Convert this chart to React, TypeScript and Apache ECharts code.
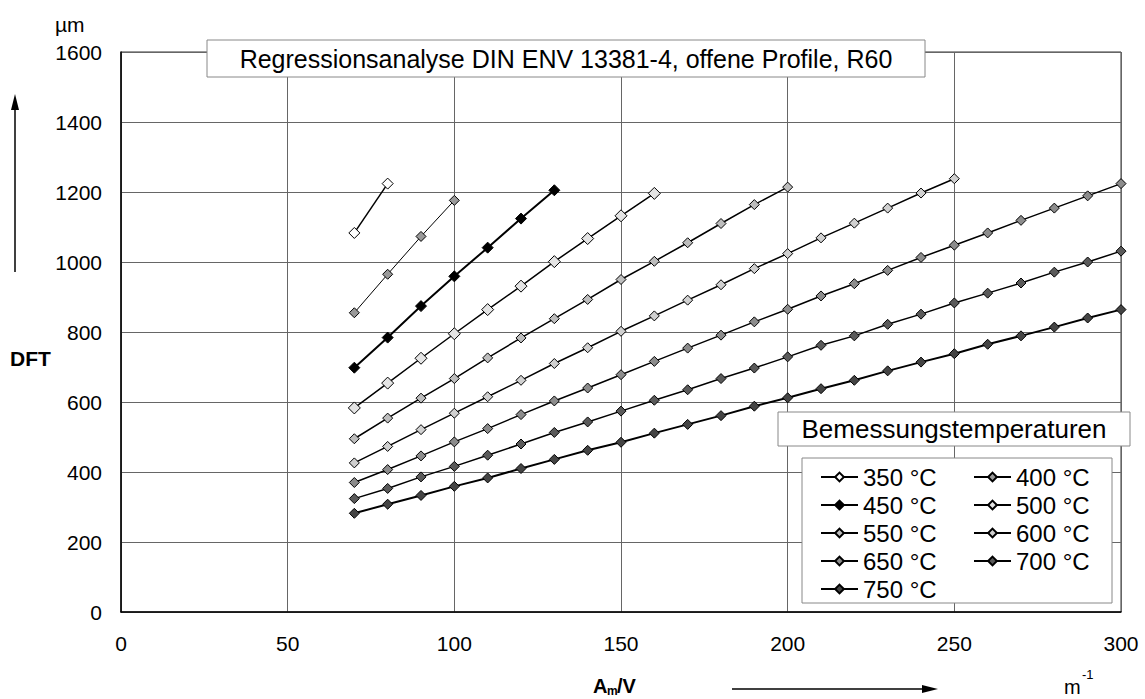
import React, { useEffect, useRef } from "react";
import * as echarts from "echarts";

const amV = [70, 80, 90, 100, 110, 120, 130, 140, 150, 160, 170, 180, 190, 200, 210, 220, 230, 240, 250, 260, 270, 280, 290, 300];
const yTicks = [0, 200, 400, 600, 800, 1000, 1200, 1400, 1600];
const xTicks = [0, 50, 100, 150, 200, 250, 300];

const temps = ["350 °C", "400 °C", "450 °C", "500 °C", "550 °C", "600 °C", "650 °C", "700 °C", "750 °C"];
const t350 = [1083, 1224];
const t400 = [855, 965, 1073, 1176];
const t450 = [698, 784, 874, 959, 1041, 1124, 1205];
const t500 = [583, 654, 725, 795, 864, 931, 1001, 1067, 1132, 1196];
const t550 = [495, 554, 611, 667, 726, 783, 838, 893, 950, 1002, 1055, 1110, 1164, 1214];
const t600 = [426, 473, 521, 568, 615, 662, 710, 755, 802, 846, 891, 935, 981, 1024, 1069, 1111, 1154, 1197, 1238];
const t650 = [370, 407, 446, 486, 524, 564, 603, 640, 678, 716, 754, 791, 829, 865, 903, 938, 976, 1013, 1048, 1083, 1119, 1154, 1189, 1224];
const t700 = [324, 353, 386, 416, 448, 480, 513, 543, 574, 605, 635, 667, 697, 729, 762, 789, 822, 851, 883, 911, 940, 971, 1000, 1031];
const t750 = [282, 308, 333, 359, 383, 410, 436, 462, 485, 511, 536, 561, 588, 612, 638, 662, 689, 714, 738, 765, 789, 814, 840, 864];

const seriesValues = [t350, t400, t450, t500, t550, t600, t650, t700, t750];
const fills = ["#ffffff", "#9a9a9a", "#000000", "#e4e4e4", "#bdbdbd", "#d0d0d0", "#8c8c8c", "#5a5a5a", "#444444"];
const lineWidths = [1.5, 1, 2, 1.5, 1.5, 1.5, 1.5, 1.5, 2];
const symSizes = [11, 10, 11, 12, 10, 10, 10, 10, 10];

const FONT = "'Liberation Sans', Arial, sans-serif";

export default function App() {
  const ref = useRef<HTMLDivElement>(null);
  useEffect(() => {
    if (!ref.current) return;
    const chart = echarts.init(ref.current, undefined, { renderer: "svg" });
    const series = temps.map((name, i) => ({
      name,
      type: "line",
      data: seriesValues[i].map((v, j) => [amV[j], v]),
      symbol: "diamond",
      symbolSize: symSizes[i],
      lineStyle: { color: "#000", width: lineWidths[i] },
      itemStyle: { color: fills[i], borderColor: "#000", borderWidth: 1 },
      z: 2,
    }));
    const legendText = { fontSize: 24, lineHeight: 24, color: "#000", fontFamily: FONT };
    const option = {
      animation: false,
      textStyle: { fontFamily: FONT },
      grid: {
        left: 121,
        top: 52,
        width: 1000,
        height: 560,
        show: true,
        borderColor: "#333",
        borderWidth: 1,
        backgroundColor: "transparent",
      },
      xAxis: {
        type: "value",
        min: xTicks[0],
        max: xTicks[xTicks.length - 1],
        interval: 50,
        axisLine: { show: true, lineStyle: { color: "#000", width: 1.5 } },
        axisTick: { show: false },
        axisLabel: { color: "#000", fontSize: 21, margin: 21, fontFamily: FONT, formatter: (v: number) => String(v) },
        splitLine: { show: true, lineStyle: { color: "#666", width: 1 } },
      },
      yAxis: {
        type: "value",
        min: yTicks[0],
        max: yTicks[yTicks.length - 1],
        interval: 200,
        axisLine: { show: true, lineStyle: { color: "#000", width: 1.5 } },
        axisTick: { show: false },
        axisLabel: { color: "#000", fontSize: 21, margin: 19, fontFamily: FONT, formatter: (v: number) => String(v) },
        splitLine: { show: true, lineStyle: { color: "#666", width: 1 } },
      },
      legend: [
        {
          data: [temps[0], temps[2], temps[4], temps[6], temps[8]],
          orient: "vertical",
          left: 820,
          top: 465,
          padding: 0,
          itemWidth: 37,
          itemHeight: 11,
          itemGap: 4,
          z: 20,
          textStyle: legendText,
        },
        {
          data: [temps[1], temps[3], temps[5], temps[7]],
          orient: "vertical",
          left: 973,
          top: 465,
          padding: 0,
          itemWidth: 37,
          itemHeight: 11,
          itemGap: 4,
          z: 20,
          textStyle: legendText,
        },
      ],
      graphic: [
        { type: "rect", z: 10, shape: { x: 207, y: 40, width: 718, height: 37 }, style: { fill: "#fff", stroke: "#888", lineWidth: 1 } },
        { type: "text", z: 11, x: 566, y: 58.5, style: { text: "Regressionsanalyse DIN ENV 13381-4, offene Profile, R60", fontSize: 25, fontFamily: FONT, fill: "#000", align: "center", verticalAlign: "middle" } },
        { type: "rect", z: 10, shape: { x: 778, y: 412, width: 352, height: 34 }, style: { fill: "#fff", stroke: "#888", lineWidth: 1 } },
        { type: "text", z: 11, x: 954, y: 429, style: { text: "Bemessungstemperaturen", fontSize: 26, fontFamily: FONT, fill: "#000", align: "center", verticalAlign: "middle" } },
        { type: "rect", z: 10, shape: { x: 802, y: 458, width: 310, height: 145 }, style: { fill: "#fff", stroke: "#888", lineWidth: 1 } },
        { type: "text", z: 11, x: 55, y: 24, style: { text: "µm", fontSize: 21, fontFamily: FONT, fill: "#000", verticalAlign: "middle" } },
        { type: "text", z: 11, x: 10, y: 358, style: { text: "DFT", fontSize: 21, fontWeight: "bold", fontFamily: FONT, fill: "#000", verticalAlign: "middle" } },
        { type: "line", z: 11, shape: { x1: 15, y1: 272, x2: 15, y2: 105 }, style: { stroke: "#000", lineWidth: 1.5 } },
        { type: "polygon", z: 11, shape: { points: [[11, 110], [19, 110], [15, 94]] }, style: { fill: "#000" } },
        { type: "text", z: 11, x: 593, y: 686, style: { text: "A", fontSize: 20, fontWeight: "bold", fontFamily: FONT, fill: "#000", verticalAlign: "middle" } },
        { type: "text", z: 11, x: 607, y: 691, style: { text: "m", fontSize: 12, fontWeight: "bold", fontFamily: FONT, fill: "#000", verticalAlign: "middle" } },
        { type: "text", z: 11, x: 617, y: 686, style: { text: "/V", fontSize: 20, fontWeight: "bold", fontFamily: FONT, fill: "#000", verticalAlign: "middle" } },
        { type: "line", z: 11, shape: { x1: 732, y1: 689, x2: 925, y2: 689 }, style: { stroke: "#000", lineWidth: 1.5 } },
        { type: "polygon", z: 11, shape: { points: [[922, 685], [922, 693], [938, 689]] }, style: { fill: "#000" } },
        { type: "text", z: 11, x: 1064, y: 687, style: { text: "m", fontSize: 20, fontFamily: FONT, fill: "#000", verticalAlign: "middle" } },
        { type: "text", z: 11, x: 1082, y: 674, style: { text: "-1", fontSize: 13, fontFamily: FONT, fill: "#000", verticalAlign: "middle" } },
      ],
      series,
    };
    chart.setOption(option as any);
    return () => chart.dispose();
  }, []);
  return (
    <div
      ref={ref}
      style={{ position: "absolute", left: 0, top: 0, width: 1145, height: 699, background: "#fff" }}
    />
  );
}
